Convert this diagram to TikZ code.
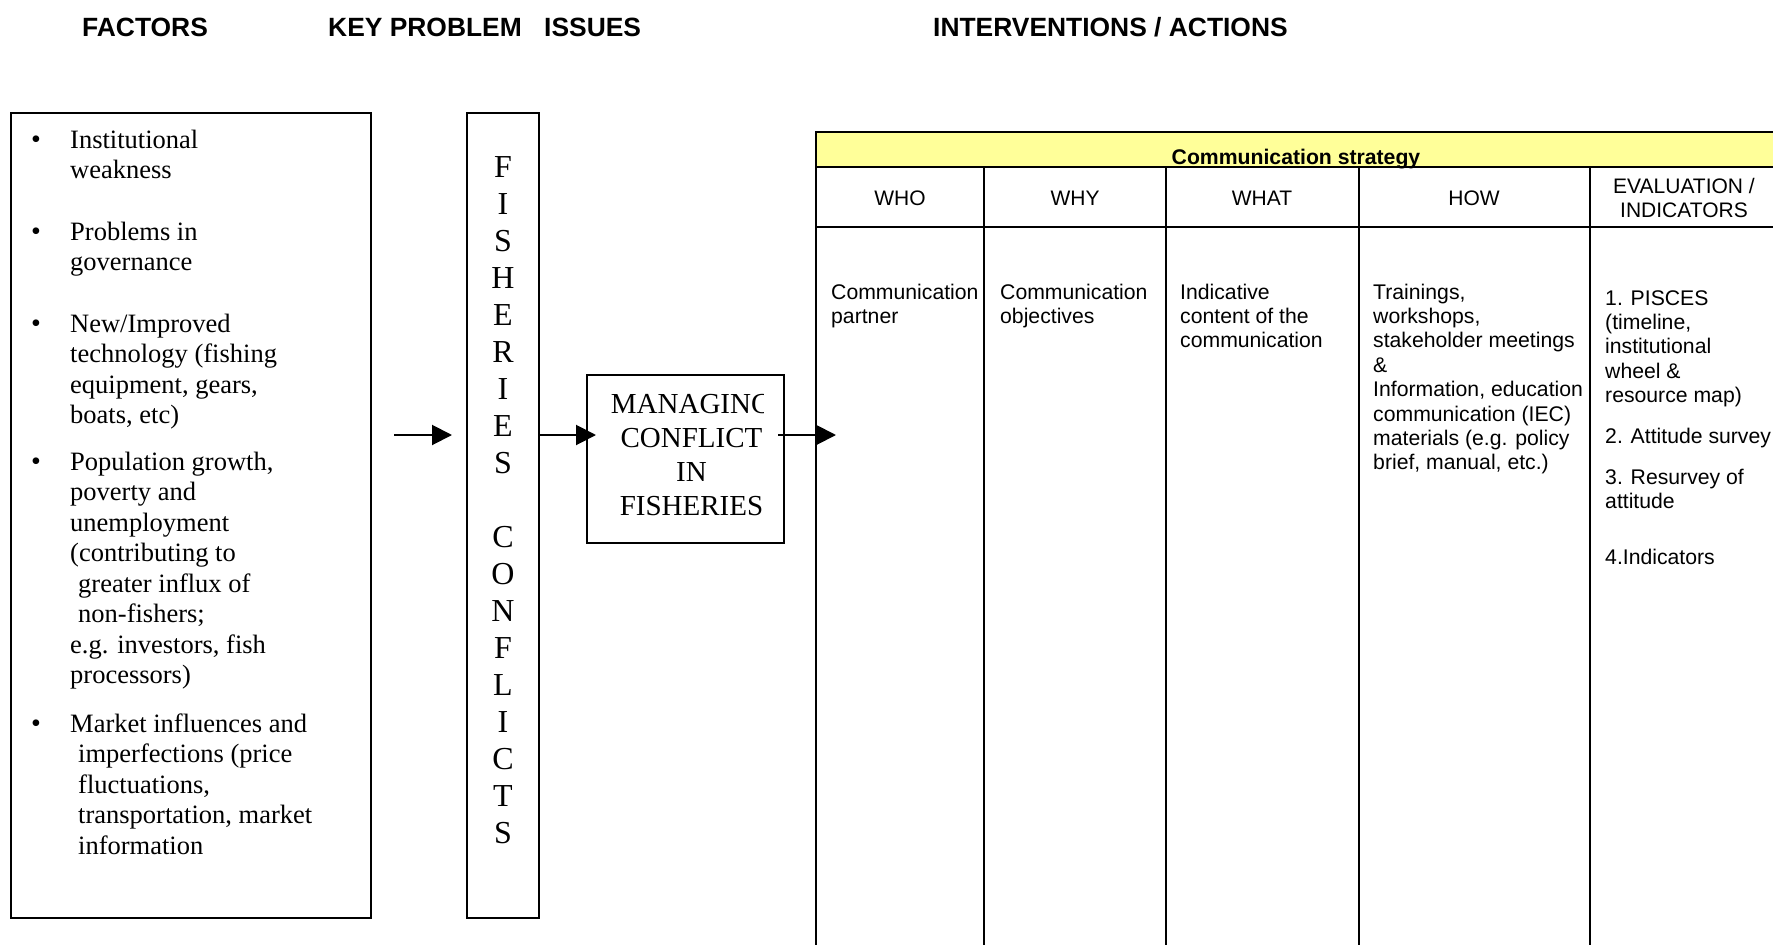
\documentclass[tikz,border=0pt]{standalone}
\usepackage{fontspec}
\setmainfont{Liberation Serif}
\setsansfont{Liberation Sans}
\newfontfamily\arialf{Liberation Sans}
\usetikzlibrary{arrows.meta}
\definecolor{hdryellow}{HTML}{FFFF99}
\tikzset{
  hdr/.style={font={\arialf\bfseries\fontsize{26.4}{30}\selectfont}, anchor=base west, inner sep=0pt},
  ftxt/.style={font={\fontsize{26.5}{30.5}\selectfont}, anchor=base west, inner sep=0pt},
  bul/.style={font={\fontsize{28}{30.5}\selectfont}, anchor=base, inner sep=0pt},
  letter/.style={font={\fontsize{32}{37}\selectfont}, anchor=base, inner sep=0pt},
  mtxt/.style={font={\fontsize{29}{34}\selectfont}, anchor=base, inner sep=0pt},
  ctxt/.style={font={\arialf\fontsize{21.2}{24.4}\selectfont}, anchor=base west, inner sep=0pt},
  chdr/.style={font={\arialf\fontsize{21}{24}\selectfont}, anchor=base, inner sep=0pt},
  ttl/.style={font={\arialf\bfseries\fontsize{21.2}{24}\selectfont}, anchor=base, inner sep=0pt},
  boxx/.style={draw, line width=1.8pt, inner sep=0pt, outer sep=0pt},
  tline/.style={line width=2.3pt},
  arr/.style={line width=2pt, -{Triangle[length=20pt,width=20pt]}},
}
\begin{document}
\begin{tikzpicture}[x=1pt,y=-1pt]
\useasboundingbox (0,0) rectangle (1773,945);
\clip (0,0) rectangle (1773,945);
\fill[white] (0,0) rectangle (1773,945);

% column titles
\node[hdr] (tFactors) at (82,36) {FACTORS};
\node[hdr] (tKey) at (328,36) {KEY PROBLEM};
\node[hdr] (tIssues) at (544,36) {ISSUES};
\node[hdr] (tInterv) at (933,36) {INTERVENTIONS / ACTIONS};

% factors box
\node[boxx, minimum width=360pt, minimum height=805pt] (factors) at (191,515.5) {};
\foreach \y [count=\j] in {148,240,332,470,732}
  \node[bul] (b\j) at (36,\y) {•};
\foreach \x/\y/\t [count=\i] in {
  70/148/Institutional,
  70/178.5/weakness,
  70/240/Problems in,
  70/270.5/governance,
  70/332/{New/Improved},
  70/362.5/{technology (fishing},
  70/393/{equipment, gears,},
  70/423.5/{boats, etc)},
  70/470/{Population growth,},
  70/500.5/poverty and,
  70/531/unemployment,
  70/561.5/{(contributing to},
  78/592/greater influx of,
  78/622.5/non-fishers;,
  70/653/{e.g. investors, fish},
  70/683.5/{processors)},
  70/732/Market influences and,
  78/762.5/{imperfections (price},
  78/793/{fluctuations,},
  78/823.5/{transportation, market},
  78/854/information}
  \node[ftxt] (fl\i) at (\x,\y) {\t};

% fisheries conflicts box
\node[boxx, minimum width=72pt, minimum height=805pt] (fish) at (503,515.5) {};
\foreach \l [count=\k from 0] in {F,I,S,H,E,R,I,E,S}
  \node[letter] (fa\k) at (503,177+37*\k) {\l};
\foreach \l [count=\k from 10] in {C,O,N,F,L,I,C,T,S}
  \node[letter] (fb\k) at (503,177+37*\k) {\l};

% managing box
\node[boxx, minimum width=197pt, minimum height=168pt] (manage) at (685.5,459) {};
\begin{scope}
  \clip (588,376) rectangle (763,542);
  \node[mtxt] (m1) at (691.5,413) {MANAGING};
  \node[mtxt] (m2) at (691.5,447) {CONFLICT};
  \node[mtxt] (m3) at (691.5,481) {IN};
  \node[mtxt] (m4) at (691.5,515) {FISHERIES};
\end{scope}

% communication strategy table
\fill[hdryellow] (816,132) rectangle (1780,167);
\draw[tline] (816,132) -- (1780,132);
\draw[tline] (816,167) -- (1780,167);
\draw[tline] (816,227) -- (1780,227);
\draw[tline] (816,131) -- (816,950);
\foreach \cx in {984,1166,1359,1590}
  \draw[tline] (\cx,167) -- (\cx,950);
\node[ttl] (title) at (1296,164) {Communication strategy};
\node[chdr] (hWho) at (900,205) {WHO};
\node[chdr] (hWhy) at (1075,205) {WHY};
\node[chdr] (hWhat) at (1262,205) {WHAT};
\node[chdr] (hHow) at (1474,205) {HOW};
\node[chdr] (hEval1) at (1684,193) {EVALUATION /};
\node[chdr] (hEval2) at (1684,217) {INDICATORS};

\foreach \x/\y/\t [count=\i] in {
  831/299/Communication,
  831/323.4/partner,
  1000/299/Communication,
  1000/323.4/objectives,
  1180/299/Indicative,
  1180/323.4/content of the,
  1180/347.8/communication,
  1373/299/{Trainings,},
  1373/323.4/{workshops,},
  1373/347.8/stakeholder meetings,
  1373/372.2/\&,
  1373/396.6/{Information, education},
  1373/421/communication (IEC),
  1373/445.4/{materials (e.g. policy},
  1373/469.8/{brief, manual, etc.)},
  1605/305/1. PISCES,
  1605/329.4/{(timeline,},
  1605/353.8/institutional,
  1605/378.2/wheel \&,
  1605/402.6/resource map),
  1605/443/2. Attitude survey,
  1605/484/3. Resurvey of,
  1605/508.4/attitude,
  1605/564/4.Indicators}
  \node[ctxt] (c\i) at (\x,\y) {\t};

% arrows
\coordinate (a1s) at (394,435);
\coordinate (a1e) at (452,435);
\coordinate (a2e) at (596,435);
\coordinate (a3s) at (778,435);
\coordinate (a3e) at (836,435);
\draw[arr] (a1s) -- (a1e);
\draw[arr] (fish.east |- a2e) -- (a2e);
\draw[arr] (a3s) -- (a3e);
\end{tikzpicture}
\end{document}
